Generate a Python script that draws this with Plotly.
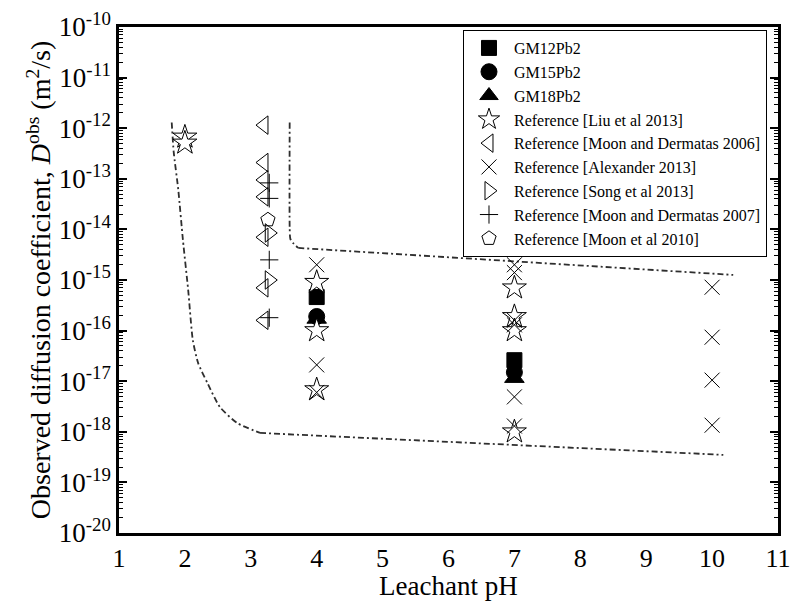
import plotly.graph_objects as go

# ---------------- data ----------------
gm12_ph = [4, 7]
gm12_d = [4.6e-16, 2.6e-17]
gm15_ph = [4, 7]
gm15_d = [1.9e-16, 1.5e-17]
gm18_ph = [4, 7]
gm18_d = [1.7e-16, 1.15e-17]

liu_ph = [2, 2, 4, 4, 4, 7, 7, 7, 7]
liu_d = [6.7e-13, 5.1e-13, 9.0e-16, 1.0e-16, 6.8e-18, 7.0e-16, 1.9e-16, 1.0e-16, 1.0e-18]

moon06_ph = [3.2, 3.2, 3.2, 3.2, 3.2, 3.2, 3.2]
moon06_d = [1.15e-12, 2.1e-13, 9.5e-14, 4.4e-14, 7.0e-15, 7.0e-16, 1.6e-16]

alex_ph = [4, 4, 4, 7, 7, 7, 7, 7, 7, 10, 10, 10, 10]
alex_d = [2.0e-15, 2.1e-17, 6.0e-18, 2.0e-15, 1.4e-15, 1.6e-16, 1.3e-16, 4.9e-18, 1.3e-18,
          7.2e-16, 7.4e-17, 1.05e-17, 1.35e-18]

song_ph = [3.28, 3.28]
song_d = [8.5e-15, 1.0e-15]

moon07_ph = [3.28, 3.28, 3.28, 3.28]
moon07_d = [8.3e-14, 4.1e-14, 2.5e-15, 1.8e-16]

moon10_ph = [3.26]
moon10_d = [1.55e-14]

# boundary curves (dash-dot)
lower_ph = [1.80, 1.83, 1.90, 1.97, 2.05, 2.12, 2.20, 2.34, 2.53, 2.79, 3.14]
lower_d = [1.3e-12, 3.4e-13, 6.0e-14, 6.2e-15, 6.3e-16, 6.5e-17, 2.3e-17, 9.3e-18, 3.1e-18, 1.5e-18, 9.5e-19]
lower2_ph = [3.14, 10.17]
lower2_d = [9.5e-19, 3.5e-19]

upper_ph = [3.59, 3.59, 3.60, 3.64, 3.72]
upper_d = [1.3e-12, 1.07e-14, 6.5e-15, 5.4e-15, 4.3e-15]
upper2_ph = [3.72, 10.32]
upper2_d = [4.3e-15, 1.26e-15]

x_ticks = list(range(1, 12))
y_exps = list(range(-20, -9))

FONT = "Liberation Serif"
LINE_COL = "#2e2e2e"
DASH = "6px,3px,2px,3px"

fig = go.Figure()

for xs, ys, shape in [(lower_ph, lower_d, "spline"), (lower2_ph, lower2_d, "linear"),
                      (upper_ph, upper_d, "spline"), (upper2_ph, upper2_d, "linear")]:
    fig.add_trace(go.Scatter(x=xs, y=ys, mode="lines", showlegend=False, hoverinfo="skip",
                             line=dict(color=LINE_COL, width=1.8, dash=DASH, shape=shape,
                                       smoothing=0.6)))

def add_pts(name, xs, ys, symbol, size, filled, lw=1.0, fill="black"):
    if filled:
        marker = dict(symbol=symbol, size=size, color=fill, line=dict(color="black", width=lw))
    else:
        marker = dict(symbol=symbol, size=size, color="black", line=dict(color="black", width=lw))
    fig.add_trace(go.Scatter(x=xs, y=ys, mode="markers", name=name, marker=marker))

add_pts("GM12Pb2", gm12_ph, gm12_d, "square", 15, True)
add_pts("GM15Pb2", gm15_ph, gm15_d, "circle", 16, True)
add_pts("GM18Pb2", gm18_ph, gm18_d, "triangle-up", 17, True)
add_pts("Reference [Liu et al 2013]", liu_ph, liu_d, "star", 18, True, 1.0, "white")
add_pts("Reference [Moon and Dermatas 2006]", moon06_ph, moon06_d, "triangle-left-open", 16, False)
add_pts("Reference [Alexander 2013]", alex_ph, alex_d, "x-thin-open", 15, False)
add_pts("Reference [Song et al 2013]", song_ph, song_d, "triangle-right-open", 16, False)
add_pts("Reference [Moon and Dermatas 2007]", moon07_ph, moon07_d, "cross-thin-open", 13, False)
add_pts("Reference [Moon et al 2010]", moon10_ph, moon10_d, "pentagon-open", 15, False)

minor_vals = [k * 10.0 ** e for e in range(-20, -10) for k in range(2, 10)]

fig.update_layout(
    width=797, height=601,
    margin=dict(l=119, r=19, t=27, b=68, autoexpand=False),
    plot_bgcolor="white", paper_bgcolor="white",
    font=dict(family=FONT, color="black", size=22),
    xaxis=dict(
        range=[1, 11], tickvals=x_ticks, ticktext=[str(v) for v in x_ticks],
        showgrid=False, zeroline=False, showline=True, linecolor="black", linewidth=2.5,
        mirror=True, ticks="", tickfont=dict(size=26, family=FONT), automargin=False,
    ),
    yaxis=dict(
        type="log", range=[-20, -10], automargin=False,
        tickvals=[10.0 ** e for e in y_exps],
        ticktext=["10<sup>%d</sup>" % e for e in y_exps],
        showgrid=False, zeroline=False, showline=True, linecolor="black", linewidth=2.5,
        mirror="ticks", ticks="inside", ticklen=8, tickwidth=1.5, tickcolor="black",
        minor=dict(tickvals=minor_vals, ticks="inside", ticklen=4, tickwidth=1, tickcolor="black",
                   showgrid=False),
        tickfont=dict(size=27, family=FONT),
        title=dict(text="Observed diffusion coefficient, <i>D</i><sup>obs</sup> (m<sup>2</sup>/s)",
                   font=dict(size=28, family=FONT), standoff=0),
    ),
    legend=dict(
        x=0.522, y=0.994, xanchor="left", yanchor="top",
        bordercolor="black", borderwidth=1, bgcolor="white",
        font=dict(size=16, family=FONT, color="black"),
        itemsizing="trace", itemwidth=40,
        tracegroupgap=0,
    ),
    annotations=[dict(text="Leachant pH", xref="paper", yref="paper", x=0.5, y=-0.104,
                      xanchor="center", yanchor="middle", showarrow=False,
                      font=dict(size=27, family=FONT, color="black"))],
)

fig.write_html("out.html")
